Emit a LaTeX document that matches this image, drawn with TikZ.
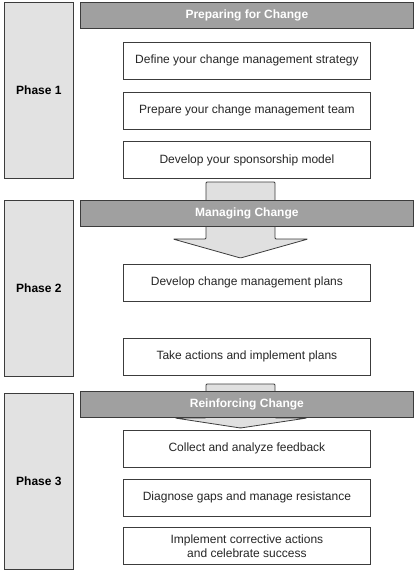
\documentclass[tikz,border=0pt]{standalone}
\usepackage{fontspec}
\setmainfont{Liberation Sans}
\usepackage{tikz}
\usetikzlibrary{positioning}
\definecolor{phgray}{RGB}{226,226,226}
\definecolor{hdgray}{RGB}{160,160,160}
\definecolor{argray}{RGB}{224,224,224}
\definecolor{lngray}{RGB}{60,60,60}

\begin{document}
\begin{tikzpicture}[
  x=1pt, y=-1pt,
  phasebox/.style={draw=lngray,fill=phgray,line width=0.8pt,
              minimum width=69pt,minimum height=176pt,inner sep=0pt,
              font=\fontsize{12}{14}\selectfont\bfseries},
  hdbox/.style={draw=lngray,fill=hdgray,line width=0.8pt,
              minimum width=333pt,minimum height=26pt,inner sep=0pt,
              font=\fontsize{12}{14}\selectfont\bfseries,text=white},
  stepbox/.style={draw=lngray,fill=white,line width=0.8pt,
              minimum width=247pt,minimum height=37pt,inner sep=0pt,
              align=center,font=\fontsize{12}{14}\selectfont,text=black!85},
  blkarr/.style={draw=lngray,fill=argray,line width=0.8pt,rounded corners=1pt},
  node distance=12pt
]
\useasboundingbox (0,0) rectangle (417,571);

% Phase column
\node[phasebox,anchor=north west] (ph1) at (4,2) {Phase 1};
\node[phasebox,below=21pt of ph1] (ph2) {Phase 2};
\node[phasebox,below=16pt of ph2] (ph3) {Phase 3};

% Block arrows (drawn before the headers)
\draw[blkarr] (206,182) -- (275,182) -- (275,239) -- (308,239)
  -- (240.5,258) -- (173,239) -- (206,239) -- cycle;
\draw[blkarr] (206,384) -- (275,384) -- (275,418) -- (307,418)
  -- (240.5,428) -- (175,418) -- (206,418) -- cycle;

% Phase 1
\node[hdbox,anchor=north west] (hd1) at (80,2) {Preparing for Change};
\node[stepbox,below=13pt of hd1] (s1) {Define your change management strategy};
\node[stepbox,below=of s1] (s2) {Prepare your change management team};
\node[stepbox,below=of s2] (s3) {Develop your sponsorship model};

% Phase 2
\node[hdbox,anchor=north west] (hd2) at (80,200) {Managing Change};
\node[stepbox,below=37pt of hd2] (s4) {Develop change management plans};
\node[stepbox,below=36pt of s4] (s5) {Take actions and implement plans};

% Phase 3
\node[hdbox,anchor=north west] (hd3) at (80,391) {Reinforcing Change};
\node[stepbox,below=12pt of hd3] (s6) {Collect and analyze feedback};
\node[stepbox,below=11pt of s6] (s7) {Diagnose gaps and manage resistance};
\node[stepbox,below=11pt of s7] (s8) {Implement corrective actions\\and celebrate success};

\end{tikzpicture}
\end{document}
